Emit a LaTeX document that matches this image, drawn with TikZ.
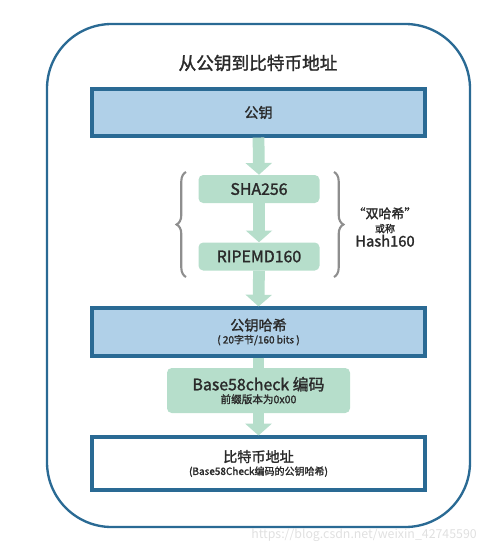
\documentclass[tikz,border=0pt]{standalone}
\usepackage{fontspec}
\setmainfont{Noto Sans CJK SC}[AutoFakeBold=1.6]
\usepackage{xcolor}
\usepackage{tikz}
\usetikzlibrary{arrows.meta, decorations.pathreplacing}

\definecolor{frameblue}{HTML}{2A6A94}
\definecolor{boxblue}{HTML}{B0D0E8}
\definecolor{flowgreen}{HTML}{B6DECB}
\definecolor{bracegray}{HTML}{8E8E8E}
\definecolor{txtgray}{HTML}{2A2A2A}

\begin{document}
\begin{tikzpicture}[x=0.85pt, y=-0.85pt,
    bigbox/.style={draw=frameblue, line width=2.6pt, minimum width=333*0.85pt,
        text=txtgray, align=center, inner sep=0pt},
    hashbox/.style={fill=flowgreen, rounded corners=4pt, text=txtgray,
        align=center, inner sep=0pt},
    flow/.style={draw=flowgreen, line width=10pt,
        -{Triangle[width=22pt, length=10pt]}},
    brc/.style={draw=bracegray, line width=1.8pt, decorate,
        decoration={brace, amplitude=8pt}}]
    \useasboundingbox (0,0) rectangle (499,550);

    % Khung ngoài và tiêu đề
    \draw[frameblue, line width=2pt, rounded corners=55pt] (47,24) rectangle (470,527);
    \node[text=txtgray, font=\bfseries\fontsize{15}{16}\selectfont] (title) at (258,63) {从公钥到比特币地址};

    % Các hộp
    \node[bigbox, fill=boxblue, minimum height=47*0.85pt, font=\bfseries\fontsize{12}{14}\selectfont]
        (pubkey) at (258.5,112.5) {公钥};
    \node[hashbox, minimum width=121*0.85pt, minimum height=28*0.85pt, font=\bfseries\fontsize{13.5}{15}\selectfont]
        (sha) at (259,189) {SHA256};
    \node[hashbox, minimum width=121*0.85pt, minimum height=28*0.85pt, font=\bfseries\fontsize{13.5}{15}\selectfont]
        (ripemd) at (259,256.5) {RIPEMD160};
    \node[bigbox, fill=boxblue, minimum height=48*0.85pt, font=\bfseries\fontsize{12}{14}\selectfont]
        (pkhash) at (258.5,332) {公钥哈希\\[-3pt]{\fontsize{8.5}{10}\selectfont ( 20字节/160 bits )}};
    \node[hashbox, minimum width=183*0.85pt, minimum height=45*0.85pt, font=\bfseries\fontsize{13.5}{15}\selectfont]
        (bfive) at (258.5,390.5) {Base58check 编码\\[-4pt]{\fontsize{9}{10}\selectfont 前缀版本为0x00}};
    \node[bigbox, fill=white, minimum height=53*0.85pt, font=\bfseries\fontsize{12}{14}\selectfont]
        (addr) at (258.5,463.5) {比特币地址\\[-3pt]{\fontsize{8.5}{10}\selectfont (Base58Check编码的公钥哈希)}};

    % Mũi tên
    \draw[flow] (pubkey.south) -- (sha.north);
    \draw[flow] (sha.south) -- (ripemd.north);
    \draw[flow] (ripemd.south) -- (pkhash.north);
    \draw[flowgreen, line width=10pt] (pkhash.south) -- (bfive.north);
    \draw[flow] (bfive.south) -- (addr.north);

    % Dấu ngoặc
    \coordinate (lbtop) at (186,172);
    \coordinate (lbbot) at (186,277);
    \coordinate (rbtop) at (334,172);
    \coordinate (rbbot) at (334,277);
    \draw[brc] (lbbot) -- (lbtop);
    \draw[brc] (rbtop) -- (rbbot);
    \node[text=txtgray, align=center, inner sep=0pt, font=\bfseries] (dbl) at (385,227)
        {{\fontsize{11}{13}\selectfont “双哈希”}\\[0pt]{\fontsize{8.5}{10}\selectfont 或称}\\[0pt]{\fontsize{12.5}{14}\selectfont Hash160}};

    % Watermark
    \node[text=black!12, font=\fontsize{10.5}{12}\selectfont] (wm) at (364,535) {https://blog.csdn.net/weixin\_42745590};
\end{tikzpicture}
\end{document}
